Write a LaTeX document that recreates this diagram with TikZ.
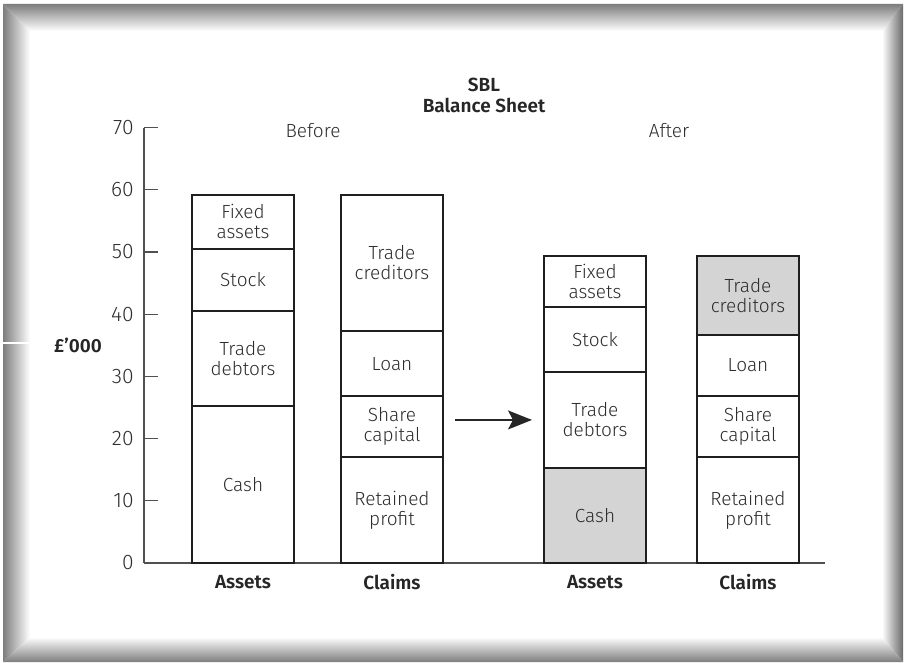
\documentclass[tikz,border=0pt]{standalone}
\usepackage{fontspec}
\setmainfont{Fira Sans}[UprightFont={* Light}, BoldFont={* SemiBold}]
\usetikzlibrary{arrows.meta}
\definecolor{inkgray}{RGB}{45,45,45}
\definecolor{shadegray}{RGB}{212,212,212}
\definecolor{framegray}{RGB}{125,125,125}
\definecolor{axisgray}{RGB}{80,80,80}
\tikzset{
  seg/.style={draw=black!88, line width=1.1pt},
  lab/.style={font=\fontsize{9.5}{10}\selectfont, text=inkgray, align=center, inner sep=0pt},
  bold lab/.style={lab, font=\fontsize{9.5}{10}\selectfont\bfseries, text=black!85},
  ticklab/.style={lab, font=\fontsize{10.5}{11}\selectfont, anchor=east},
  axis/.style={draw=axisgray, line width=0.6pt},
  flow/.style={draw=black!85, line width=0.6pt, -{Stealth[length=12pt,width=9.5pt,inset=2.5pt]}}
}
\begin{document}
\begin{tikzpicture}[x=0.5pt,y=-0.5pt]
            \useasboundingbox (0,0) rectangle (904,663);
            % bevelled frame
            \shade[top color=framegray, bottom color=white] (3,4) -- (903,4) -- (882,31) -- (30,31) -- cycle;
            \shade[left color=framegray, right color=white] (3,4) -- (30,31) -- (30,637) -- (3,662) -- cycle;
            \shade[left color=white, right color=framegray!85!black] (903,4) -- (903,662) -- (882,637) -- (882,31) -- cycle;
            \shade[top color=white, bottom color=framegray] (3,662) -- (30,637) -- (882,637) -- (903,662) -- cycle;
            \draw[white, line width=0.8pt] (3,343) -- (30,343);
            % title
            \node[bold lab] (sbl) at (484,85) {SBL};
            \node[bold lab] (bsheet) at (484,105) {Balance Sheet};
            \begin{scope}[xshift=72pt, yshift=-281.5pt, y=3.11pt]
            \draw[axis] (0,0) -- (0,70); % eje y
            \draw[axis] (0,0) -- (681,0); % base
            \foreach \v in {10,20,...,70}
            \draw[axis] (0,\v) -- (14,\v);
            \foreach \v in {0,10,...,70}
            \node[ticklab] (t\v) at (-10,\v) {\v};
            \node[bold lab] (unit) at (-66,35) {£'000};
            \node[lab] (before) at (169,69.6) {Before};
            \node[lab] (after) at (525,69.6) {After};
            % stacked bars: left x / bottom / top / fill / name / text
            \foreach \xl/\lo/\hi/\col/\nm/\txt in {
              48/0/25.2/white/bcash/Cash,
              48/25.2/40.5/white/bdebt/Trade\\debtors,
              48/40.5/50.5/white/bstock/Stock,
              48/50.5/59.2/white/bfixed/Fixed\\assets,
              197/0/17/white/bret/Retained\\profit,
              197/17/26.8/white/bshare/Share\\capital,
              197/26.8/37.3/white/bloan/Loan,
              197/37.3/59.2/white/bcred/Trade\\creditors,
              400/0/15.3/shadegray/acash/Cash,
              400/15.3/30.7/white/adebt/Trade\\debtors,
              400/30.7/41.2/white/astock/Stock,
              400/41.2/49.4/white/afixed/Fixed\\assets,
              553/0/17/white/aret/Retained\\profit,
              553/17/26.8/white/ashare/Share\\capital,
              553/26.8/36.7/white/aloan/Loan,
              553/36.7/49.4/shadegray/acred/Trade\\creditors}
            {
            \draw[seg, fill=\col] (\xl,\lo) rectangle ({\xl+102},\hi);
            \node[lab] (\nm) at ({\xl+51},{(\lo+\hi)/2}) {\txt};
            }
            \node[bold lab] (bassets) at (99,-3.1) {Assets};
            \node[bold lab] (bclaims) at (248,-3.1) {Claims};
            \node[bold lab] (aassets) at (451,-3.1) {Assets};
            \node[bold lab] (aclaims) at (604,-3.1) {Claims};
            \coordinate (fromb) at (311,23);
            \coordinate (toa) at (388,23);
            \draw[flow] (fromb) -- (toa);
            \end{scope}
            \end{tikzpicture}
\end{document}
